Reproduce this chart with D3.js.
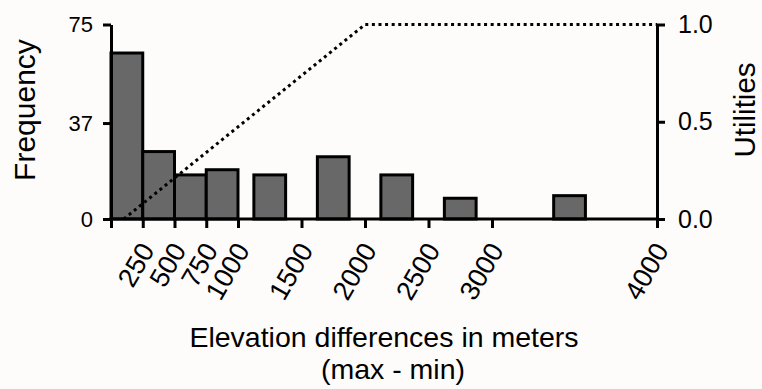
<!DOCTYPE html>
<html>
<head>
<meta charset="utf-8">
<script src="https://cdn.jsdelivr.net/npm/d3@7"></script>
<style>
  html, body { margin: 0; padding: 0; background: #fdfcfa; }
  svg { display: block; }
  text { font-family: "Liberation Sans", Arial, sans-serif; fill: #000; }
</style>
</head>
<body>
<svg id="chart" width="762" height="389"></svg>
<script>
// ---- data ----
const binCenters = [125, 375, 625, 875, 1250, 1750, 2250, 2750, 3470];
const frequencies = [64, 26, 17, 19, 17, 24, 17, 8, 9];
const xTickValues = [0, 250, 500, 750, 1000, 1500, 2000, 2500, 3000, 4000];
const xTickLabels = ["", "250", "500", "750", "1000", "1500", "2000", "2500", "3000", "4000"];
const leftTickValues = [0, 37, 75];
const rightTickValues = [0, 0.5, 1.0];
const utilityX = [100, 2000, 4000];
const utilityY = [0, 1, 1];
const xTitleLines = ["Elevation differences in meters", "(max - min)"];

// ---- layout ----
const svg = d3.select("#chart");
const mLeft = 111, mRight = 657, mTop = 24.5, mBottom = 219;
const FONT = "Liberation Sans, Arial, sans-serif";

const x = d3.scaleLinear().domain([0, 3000, 4000]).range([mLeft, 492, mRight]);
const yL = d3.scaleLinear().domain([0, 75]).range([mBottom, mTop]);
const yR = d3.scaleLinear().domain([0, 1]).range([mBottom, mTop]);

const barW = x(250) - x(0);

// bars
svg.append("g").selectAll("rect")
  .data(binCenters.map((c, i) => ({c, f: frequencies[i]})))
  .join("rect")
  .attr("x", d => x(d.c) - barW / 2)
  .attr("width", barW)
  .attr("y", d => yL(d.f))
  .attr("height", d => yL(0) - yL(d.f))
  .attr("fill", "#686868")
  .attr("stroke", "#000")
  .attr("stroke-width", 3);

// utility line
const line = d3.line().x(d => x(d[0])).y(d => yR(d[1]));
svg.append("path")
  .datum(utilityX.map((v, i) => [v, utilityY[i]]))
  .attr("d", line)
  .attr("fill", "none")
  .attr("stroke", "#000")
  .attr("stroke-width", 3)
  .attr("stroke-dasharray", "3,3.6");

function styleAxis(g) {
  g.selectAll(".domain").attr("stroke", "#000").attr("stroke-width", 3);
  g.selectAll(".tick line").attr("stroke", "#000").attr("stroke-width", 3);
}

// left axis
const gl = svg.append("g").attr("transform", `translate(${mLeft},0)`)
  .call(d3.axisLeft(yL).tickValues(leftTickValues).tickSize(8).tickSizeOuter(0).tickPadding(10));
styleAxis(gl);
gl.selectAll(".tick text").attr("font-size", 22).attr("font-family", FONT);

// right axis
const gr = svg.append("g").attr("transform", `translate(${mRight},0)`)
  .call(d3.axisRight(yR).tickValues(rightTickValues).tickSize(8).tickSizeOuter(0).tickPadding(13).tickFormat(d3.format(".1f")));
styleAxis(gr);
gr.selectAll(".tick text").attr("font-size", 25).attr("font-family", FONT);

// bottom axis
const gb = svg.append("g").attr("transform", `translate(0,${mBottom})`)
  .call(d3.axisBottom(x).tickValues(xTickValues).tickSize(9).tickSizeOuter(0)
    .tickFormat((d, i) => xTickLabels[i]));
styleAxis(gb);
gb.select(".domain").attr("d", `M${mLeft - 1.5},0H${mRight + 1.5}`);
gb.selectAll(".tick text")
  .attr("font-size", 27)
  .attr("font-family", FONT)
  .attr("text-anchor", "end")
  .attr("dy", 0)
  .attr("y", 0)
  .attr("transform", "translate(12,31) rotate(-60)");

// titles
svg.append("text")
  .attr("transform", `translate(35,110) rotate(-90)`)
  .attr("text-anchor", "middle")
  .attr("font-size", 30)
  .text("Frequency");

svg.append("text")
  .attr("transform", `translate(755,110) rotate(-90)`)
  .attr("text-anchor", "middle")
  .attr("font-size", 29.5)
  .text("Utilities");

const xt = svg.append("text")
  .attr("text-anchor", "middle")
  .attr("font-size", 28.5);
xt.append("tspan").attr("x", 384).attr("y", 347).text(xTitleLines[0]);
xt.append("tspan").attr("x", 393).attr("y", 379).text(xTitleLines[1]);
</script>
</body>
</html>
